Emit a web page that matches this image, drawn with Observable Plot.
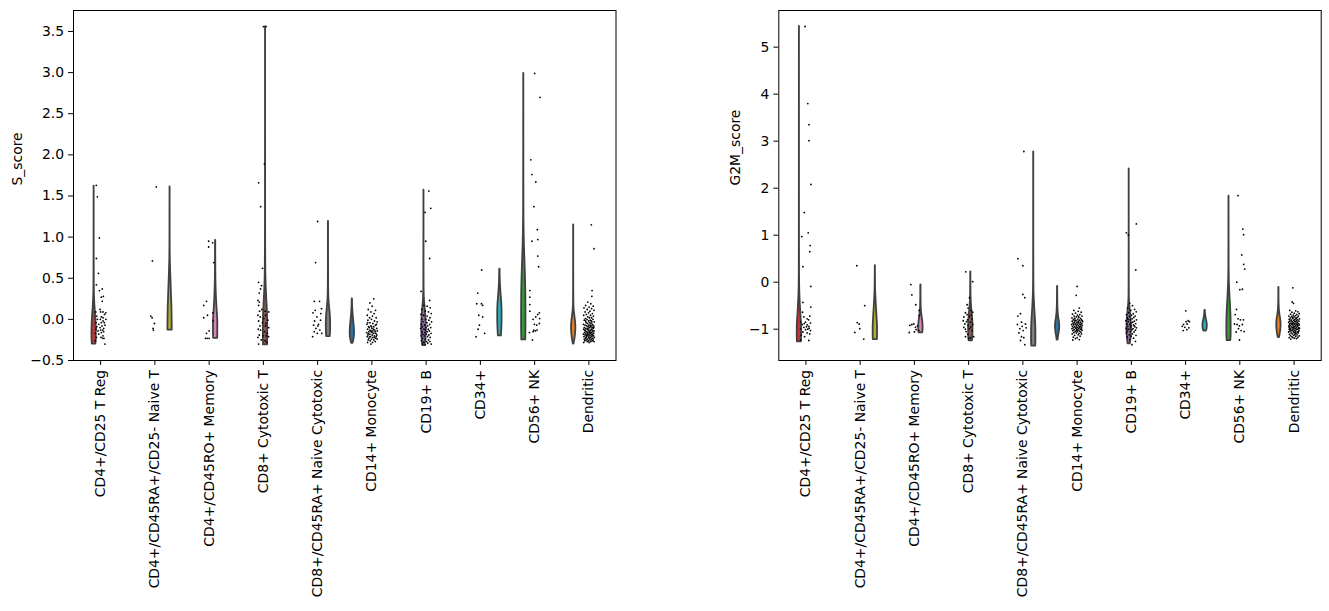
<!DOCTYPE html>
<html>
<head>
<meta charset="utf-8">
<script src="https://cdn.jsdelivr.net/npm/d3@7"></script>
<script src="https://cdn.jsdelivr.net/npm/@observablehq/plot@0.6"></script>
<style>
  body { margin: 0; background: #fff; }
  #wrap { position: relative; width: 1329px; height: 611px; overflow: hidden; background: #fff; }
  .panel { position: absolute; top: 0; }
  .panel svg { max-width: none !important; }
</style>
</head>
<body>
<div id="wrap"><div class="panel" id="left" style="left:0px"></div><div class="panel" id="right" style="left:700px"></div></div>
<script>
const categories = [
  "CD4+/CD25 T Reg",
  "CD4+/CD45RA+/CD25- Naive T",
  "CD4+/CD45RO+ Memory",
  "CD8+ Cytotoxic T",
  "CD8+/CD45RA+ Naive Cytotoxic",
  "CD14+ Monocyte",
  "CD19+ B",
  "CD34+",
  "CD56+ NK",
  "Dendritic"
];
// dodge slot (hue order) of each category
const hueSlot = [3, 8, 6, 5, 7, 0, 4, 9, 2, 1];
const palette = ["#c83436", "#b0b02e", "#da80bf", "#885a50", "#7f7f7f", "#2a75aa", "#9470b6", "#26b2c2", "#359a35", "#ea801f"];

const sTicks = [-0.5, 0, 0.5, 1, 1.5, 2, 2.5, 3, 3.5];
const gTicks = [-1, 0, 1, 2, 3, 4, 5];

// violin profiles: [value, relative half-width]
const sViolins = [
  [[-0.30,0.85],[-0.25,0.95],[-0.18,1.0],[-0.10,0.95],[0.0,0.8],[0.10,0.55],[0.20,0.3],[0.30,0.15],[0.45,0.07],[0.70,0.04],[1.00,0.025],[1.30,0.02],[1.62,0.015]],
  [[-0.13,1.0],[0.0,0.95],[0.15,0.85],[0.30,0.65],[0.45,0.45],[0.60,0.25],[0.75,0.1],[0.90,0.05],[1.20,0.03],[1.61,0.02]],
  [[-0.23,0.95],[-0.15,1.0],[-0.05,1.0],[0.05,0.85],[0.15,0.6],[0.25,0.4],[0.35,0.25],[0.50,0.12],[0.70,0.06],[0.96,0.05]],
  [[-0.31,0.9],[-0.20,1.0],[-0.05,1.0],[0.10,0.85],[0.25,0.55],[0.40,0.3],[0.60,0.12],[0.90,0.05],[1.50,0.03],[2.50,0.02],[3.56,0.015]],
  [[-0.21,0.8],[-0.15,0.95],[-0.05,1.0],[0.05,0.85],[0.15,0.5],[0.25,0.2],[0.40,0.08],[0.70,0.04],[1.19,0.03]],
  [[-0.29,0.3],[-0.25,0.7],[-0.20,0.95],[-0.15,1.0],[-0.08,0.85],[0.0,0.55],[0.08,0.3],[0.15,0.15],[0.25,0.05]],
  [[-0.32,0.5],[-0.25,0.8],[-0.15,1.0],[-0.05,1.0],[0.05,0.8],[0.15,0.5],[0.25,0.2],[0.40,0.06],[0.80,0.03],[1.57,0.02]],
  [[-0.20,0.7],[-0.10,0.9],[0.0,1.0],[0.10,1.0],[0.20,0.85],[0.30,0.55],[0.40,0.3],[0.50,0.15],[0.61,0.08]],
  [[-0.25,0.9],[-0.10,1.0],[0.10,1.0],[0.30,0.95],[0.50,0.8],[0.70,0.55],[0.90,0.3],[1.20,0.1],[1.60,0.05],[2.20,0.03],[2.99,0.02]],
  [[-0.30,0.15],[-0.25,0.5],[-0.18,0.85],[-0.10,1.0],[-0.03,0.85],[0.05,0.5],[0.12,0.2],[0.20,0.08],[0.40,0.03],[0.80,0.02],[1.15,0.015]]
];

const gViolins = [
  [[-1.27,0.9],[-1.15,1.0],[-1.0,1.0],[-0.85,0.9],[-0.7,0.7],[-0.5,0.45],[-0.3,0.25],[-0.1,0.12],[0.2,0.06],[1.0,0.03],[3.0,0.02],[5.44,0.015]],
  [[-1.22,0.95],[-1.1,1.0],[-0.95,1.0],[-0.8,0.85],[-0.6,0.6],[-0.4,0.35],[-0.2,0.15],[0.0,0.07],[0.2,0.04],[0.35,0.03]],
  [[-1.08,0.85],[-1.0,1.0],[-0.92,1.0],[-0.82,0.8],[-0.72,0.5],[-0.62,0.25],[-0.45,0.1],[-0.25,0.06],[-0.06,0.05]],
  [[-1.25,0.75],[-1.15,0.95],[-1.0,1.0],[-0.85,0.95],[-0.7,0.7],[-0.55,0.4],[-0.4,0.2],[-0.2,0.08],[0.0,0.05],[0.22,0.04]],
  [[-1.36,0.9],[-1.25,1.0],[-1.1,1.0],[-0.95,0.95],[-0.8,0.8],[-0.65,0.6],[-0.5,0.4],[-0.35,0.25],[-0.2,0.12],[0.1,0.06],[0.8,0.03],[2.77,0.02]],
  [[-1.23,0.2],[-1.15,0.45],[-1.05,0.8],[-0.95,1.0],[-0.85,0.85],[-0.75,0.5],[-0.6,0.2],[-0.4,0.08],[-0.09,0.04]],
  [[-1.31,0.5],[-1.2,0.8],[-1.05,1.0],[-0.9,1.0],[-0.75,0.8],[-0.6,0.5],[-0.45,0.2],[-0.3,0.08],[0.0,0.04],[1.0,0.02],[2.41,0.015]],
  [[-1.04,0.5],[-1.0,0.85],[-0.94,1.0],[-0.88,0.95],[-0.8,0.6],[-0.72,0.3],[-0.65,0.15],[-0.6,0.1]],
  [[-1.24,0.85],[-1.1,1.0],[-0.9,1.0],[-0.7,0.9],[-0.5,0.7],[-0.3,0.45],[-0.1,0.25],[0.1,0.12],[0.4,0.06],[1.0,0.03],[1.83,0.02]],
  [[-1.18,0.3],[-1.1,0.6],[-1.0,0.9],[-0.9,1.0],[-0.8,0.85],[-0.7,0.5],[-0.6,0.25],[-0.45,0.1],[-0.3,0.05],[-0.11,0.04]]
];

// strip points: [jitter (-1..1), value]
const sPoints = [
  [[-0.8,1.63],[-0.6,1.49],[-0.23,0.99],[-0.78,0.74],[-0.4,0.56],[-0.78,0.42],[0.3,0.37],[-0.23,0.35],[0.5,0.28],[0.13,0.27],[0.3,0.22],[-0.1,0.12],[0.0,0.09],[0.44,0.09],[0.95,0.08],[-0.9,0.09],[0.73,0.06],[-0.72,0.04],[0.13,0.03],[0.44,0.02],[-0.6,0.0],[-0.05,0.0],[0.98,0.0],[0.44,-0.02],[-0.84,-0.04],[0.13,-0.04],[0.68,-0.04],[-0.35,-0.06],[0.8,-0.07],[0.25,-0.08],[-0.72,-0.09],[-0.1,-0.1],[0.56,-0.11],[-0.84,-0.12],[0.0,-0.13],[0.38,-0.13],[-0.48,-0.14],[0.56,-0.15],[0.13,-0.16],[-0.96,-0.17],[-0.35,-0.18],[0.44,-0.2],[-0.78,-0.22],[0.07,-0.22],[0.62,-0.23],[-0.96,-0.26],[0.38,-0.23],[0.8,-0.3]],
  [[0.27,1.61],[-0.45,0.71],[-0.75,0.04],[-0.51,0.02],[-0.08,-0.05],[-0.33,-0.11],[-0.27,-0.13]],
  [[-0.09,0.95],[0.64,0.93],[-0.09,0.88],[0.85,0.69],[-0.48,0.22],[-1.0,0.17],[0.67,0.08],[-0.3,0.05],[-1.0,0.02],[0.73,-0.02],[0.0,-0.14],[-0.48,-0.17],[-0.67,-0.23],[-0.36,-0.23],[0.0,-0.23]],
  [[0.0,3.56],[0.5,3.56],[0.2,1.89],[-0.87,1.66],[-0.51,1.37],[-0.16,0.62],[-0.88,0.45],[-0.34,0.41],[-0.52,0.37],[-0.76,0.32],[-1.0,0.23],[-0.76,0.21],[-0.88,0.17],[-0.28,0.12],[-0.7,0.10],[0.33,0.10],[0.98,0.09],[-1.0,0.05],[-0.58,0.03],[0.09,0.01],[0.81,-0.01],[-0.88,-0.02],[-0.16,-0.04],[-0.64,-0.08],[0.39,-0.08],[0.98,-0.1],[-0.94,-0.12],[-0.52,-0.13],[0.21,-0.15],[0.69,-0.17],[-0.76,-0.19],[-0.1,-0.2],[0.95,-0.21],[-1.0,-0.22],[-0.4,-0.25],[0.33,-0.26],[-0.88,-0.3],[0.69,-0.28],[0.4,0.05],[0.45,-0.05],[0.5,-0.2]],
  [[0.0,1.19],[-0.38,0.69],[-0.62,0.22],[0.35,0.22],[-0.44,0.11],[-0.86,0.08],[0.72,0.13],[0.59,0.07],[-0.13,0.03],[-0.56,-0.02],[0.53,-0.01],[-0.74,-0.07],[0.05,-0.08],[-0.32,-0.11],[0.41,-0.13],[-0.62,-0.15],[-0.07,-0.17],[-0.92,-0.21],[0.78,-0.17],[0.17,-0.06]],
  [[0.36,0.25],[-0.36,0.20],[0.06,0.16],[-0.67,0.12],[0.67,0.11],[-0.18,0.09],[0.42,0.07],[-0.85,0.05],[0.12,0.04],[-0.42,0.02],[0.79,0.02],[-0.06,0.0],[-0.73,-0.01],[0.48,-0.02],[0.97,-0.03],[-0.36,-0.04],[0.18,-0.05],[-0.91,-0.06],[0.67,-0.07],[-0.18,-0.08],[-0.61,-0.09],[0.36,-0.09],[0.91,-0.11],[0.0,-0.11],[-0.79,-0.12],[-0.36,-0.13],[0.55,-0.13],[0.18,-0.14],[1.0,-0.14],[-0.55,-0.15],[-0.12,-0.15],[-0.97,-0.16],[0.73,-0.17],[0.36,-0.17],[-0.36,-0.18],[0.06,-0.19],[-0.73,-0.19],[0.91,-0.19],[0.48,-0.2],[-0.24,-0.21],[-0.85,-0.21],[0.18,-0.22],[-0.55,-0.23],[0.73,-0.23],[-0.06,-0.24],[0.36,-0.25],[-0.67,-0.25],[-0.3,-0.26],[0.61,-0.27],[0.12,-0.28],[-0.79,-0.28],[-0.18,-0.3],[0.79,-0.21],[-0.48,-0.1],[0.3,-0.12],[-0.18,-0.14],[0.61,-0.15],[-0.67,-0.17],[0.06,-0.16],[0.97,-0.24],[-0.42,-0.21],[0.48,-0.22],[-0.06,-0.09],[0.85,-0.06],[-0.79,-0.04]],
  [[0.5,1.56],[0.85,1.35],[-0.2,1.30],[-0.07,0.95],[0.65,0.74],[-0.93,0.34],[0.65,0.23],[-0.4,0.17],[0.2,0.16],[0.75,0.14],[-0.8,0.12],[-0.15,0.1],[0.45,0.09],[0.95,0.07],[-0.95,0.06],[-0.45,0.05],[0.2,0.04],[0.7,0.02],[-0.75,0.0],[-0.05,0.0],[0.5,-0.01],[1.0,-0.03],[-0.55,-0.03],[0.15,-0.04],[-0.9,-0.06],[0.65,-0.06],[-0.3,-0.07],[0.3,-0.08],[-0.7,-0.09],[0.0,-0.1],[0.85,-0.1],[-1.0,-0.11],[-0.4,-0.12],[0.4,-0.12],[-0.1,-0.13],[0.6,-0.14],[-0.75,-0.15],[0.2,-0.15],[-0.25,-0.16],[0.9,-0.17],[-0.6,-0.18],[0.05,-0.18],[0.5,-0.19],[-0.9,-0.2],[-0.35,-0.2],[0.25,-0.21],[0.75,-0.22],[-0.65,-0.23],[-0.1,-0.24],[0.45,-0.25],[-0.85,-0.26],[0.1,-0.27],[0.7,-0.27],[-0.45,-0.28],[0.3,-0.29],[-0.15,-0.31],[0.95,-0.3],[-0.7,-0.3]],
  [[0.24,0.60],[-0.48,0.32],[-0.67,0.19],[0.2,0.19],[0.42,0.17],[-0.3,0.05],[0.42,0.03],[-0.18,-0.07],[-0.42,-0.12],[0.79,-0.17],[-0.79,-0.21]],
  [[0.0,2.99],[1.0,2.70],[-0.7,1.94],[-0.5,1.76],[0.22,1.67],[-0.14,1.37],[0.5,1.09],[0.58,0.97],[-0.5,0.95],[0.58,0.77],[0.73,0.64],[-0.88,0.35],[-0.88,0.27],[-0.88,0.18],[-0.88,0.10],[0.87,0.08],[0.57,0.06],[0.2,0.03],[0.93,0.01],[-0.28,0.0],[-0.04,-0.06],[0.87,-0.05],[0.39,-0.07],[-0.95,-0.16],[-0.16,-0.13],[0.15,-0.14],[0.45,-0.13],[-0.28,-0.15],[-0.4,-0.25]],
  [[0.45,1.15],[0.95,0.86],[0.59,0.35],[0.55,0.28],[-0.2,0.21],[0.35,0.19],[-0.6,0.17],[0.8,0.16],[0.05,0.15],[-0.9,0.14],[0.5,0.13],[-0.3,0.12],[0.95,0.11],[0.2,0.10],[-0.7,0.09],[-0.05,0.08],[0.65,0.07],[-0.45,0.06],[0.3,0.05],[-0.95,0.05],[0.85,0.04],[-0.2,0.03],[0.1,0.02],[0.5,0.02],[-0.65,0.01],[-0.35,0.0],[0.75,0.0],[0.25,-0.01],[-0.85,-0.01],[-0.05,-0.02],[0.55,-0.03],[1.0,-0.03],[-0.5,-0.04],[0.15,-0.04],[-0.25,-0.05],[0.4,-0.05],[-1.0,-0.06],[0.7,-0.06],[-0.7,-0.07],[0.0,-0.07],[0.9,-0.08],[-0.4,-0.08],[0.3,-0.09],[-0.15,-0.09],[0.6,-0.1],[-0.85,-0.1],[0.1,-0.1],[-0.55,-0.11],[0.8,-0.11],[0.45,-0.12],[-0.3,-0.12],[-0.95,-0.12],[0.2,-0.13],[-0.1,-0.13],[0.65,-0.13],[-0.65,-0.14],[0.95,-0.14],[0.35,-0.14],[-0.4,-0.15],[0.05,-0.15],[0.75,-0.15],[-0.8,-0.16],[-0.2,-0.16],[0.5,-0.16],[0.25,-0.17],[-0.55,-0.17],[0.9,-0.17],[-1.0,-0.18],[0.0,-0.18],[0.6,-0.18],[-0.35,-0.19],[0.4,-0.19],[-0.7,-0.19],[0.15,-0.2],[0.85,-0.2],[-0.15,-0.2],[-0.9,-0.21],[0.55,-0.21],[-0.45,-0.21],[0.3,-0.22],[1.0,-0.22],[-0.05,-0.22],[-0.6,-0.23],[0.7,-0.23],[0.1,-0.23],[-0.25,-0.24],[0.45,-0.24],[-0.85,-0.24],[0.2,-0.25],[0.8,-0.25],[-0.5,-0.25],[-0.1,-0.26],[0.6,-0.26],[-0.75,-0.26],[0.35,-0.27],[-0.3,-0.27],[0.95,-0.27],[0.05,-0.28],[-0.95,-0.28],[-0.4,-0.2],[0.25,-0.07],[-0.6,-0.02],[0.7,-0.19],[-0.15,-0.11],[0.45,-0.02],[-0.75,-0.13],[0.15,-0.16],[0.9,-0.1],[-0.25,-0.18],[0.55,-0.08],[-0.5,-0.22]]
];

const gPoints = [
  [[-0.16,5.44],[0.35,3.80],[0.56,3.35],[0.56,3.01],[0.93,2.08],[-0.3,1.48],[0.42,1.05],[-0.76,0.97],[0.78,0.78],[0.72,0.65],[-0.56,0.33],[0.9,-0.09],[-0.56,-0.43],[0.9,-0.53],[-0.62,-0.64],[0.72,-0.72],[-0.38,-0.74],[0.23,-0.78],[0.5,-0.8],[-0.98,-0.84],[-0.07,-0.85],[0.84,-0.87],[-0.68,-0.9],[0.23,-0.91],[-0.38,-0.96],[0.54,-0.94],[-0.98,-0.99],[-0.07,-1.01],[0.84,-1.03],[-0.56,-1.06],[0.23,-1.08],[-0.86,-1.13],[-0.25,-1.16],[0.54,-1.24],[-0.98,-1.23],[0.6,-0.98],[0.1,-0.95],[-0.3,-0.88],[0.35,-1.0],[0.7,-1.1]],
  [[-0.61,0.35],[0.84,-0.5],[-0.55,-0.86],[-0.19,-0.89],[-0.07,-0.99],[-0.98,-1.07],[0.66,-1.21]],
  [[-0.65,-0.05],[-0.47,-0.27],[0.26,-0.48],[0.87,-0.6],[0.87,-0.71],[-0.1,-0.89],[-0.83,-0.92],[-0.47,-0.9],[0.2,-0.96],[0.56,-0.93],[0.81,-1.03],[-0.95,-1.07],[0.0,-1.06],[0.32,-1.01]],
  [[-0.52,0.22],[0.75,0.01],[0.15,-0.33],[-0.28,-0.48],[-0.1,-0.55],[0.45,-0.6],[-0.58,-0.65],[0.75,-0.64],[-0.28,-0.69],[-0.88,-0.74],[0.15,-0.73],[0.63,-0.78],[-1.0,-0.82],[-0.4,-0.84],[0.33,-0.85],[-0.7,-0.89],[-0.1,-0.92],[0.75,-0.9],[-0.88,-0.96],[0.15,-0.99],[0.63,-1.03],[-0.46,-1.05],[-0.16,-1.11],[0.93,-1.16],[0.33,-1.18],[-0.58,-1.16],[0.5,-0.7],[-0.2,-0.8],[0.4,-0.95],[-0.6,-1.0],[0.0,-1.2]],
  [[0.18,2.78],[-0.92,0.50],[0.0,0.35],[0.0,-0.26],[0.35,-0.33],[-0.44,-0.67],[-0.92,-0.72],[-0.25,-0.85],[-1.0,-0.9],[0.47,-0.89],[-0.13,-0.94],[-0.56,-0.99],[0.6,-0.97],[0.05,-1.03],[-0.74,-1.08],[-0.25,-1.16],[0.17,-1.18],[-0.44,-1.24],[0.35,-1.33]],
  [[0.0,-0.09],[-0.17,-0.28],[0.4,-0.55],[-0.6,-0.6],[0.2,-0.62],[0.75,-0.64],[-0.3,-0.66],[-0.85,-0.68],[0.5,-0.69],[0.05,-0.7],[-0.55,-0.72],[0.9,-0.72],[-0.15,-0.74],[0.3,-0.75],[-0.95,-0.76],[0.65,-0.77],[-0.4,-0.78],[0.1,-0.79],[-0.7,-0.8],[0.8,-0.8],[0.45,-0.81],[-0.2,-0.82],[-0.9,-0.83],[0.2,-0.83],[1.0,-0.84],[-0.5,-0.85],[0.6,-0.85],[-0.05,-0.86],[-0.75,-0.87],[0.35,-0.87],[0.85,-0.88],[-0.3,-0.89],[0.0,-0.9],[-1.0,-0.9],[0.55,-0.9],[-0.6,-0.91],[0.25,-0.92],[0.95,-0.92],[-0.15,-0.93],[-0.85,-0.94],[0.7,-0.94],[0.4,-0.95],[-0.45,-0.95],[0.1,-0.96],[-0.7,-0.97],[0.85,-0.97],[-0.25,-0.98],[0.3,-0.99],[-0.95,-0.99],[0.6,-1.0],[-0.05,-1.0],[-0.55,-1.01],[0.15,-1.02],[0.9,-1.02],[-0.8,-1.03],[0.45,-1.04],[-0.35,-1.04],[0.05,-1.05],[0.7,-1.06],[-0.6,-1.07],[-0.15,-1.08],[0.35,-1.09],[-0.9,-1.1],[0.8,-1.1],[0.2,-1.12],[-0.45,-1.13],[0.55,-1.15],[-0.7,-1.17],[0.0,-1.18],[-0.3,-1.2],[0.4,-1.22],[-0.8,-1.23],[0.65,-0.9],[-0.4,-0.82],[0.15,-0.86],[-0.65,-0.88],[0.5,-0.96],[-0.2,-0.97],[0.75,-1.0],[-0.5,-0.77],[0.25,-0.73],[-0.1,-1.03],[0.95,-0.82]],
  [[0.81,0.26],[-0.92,1.05],[-0.55,1.0],[0.92,1.24],[-0.3,-0.45],[0.2,-0.5],[-0.7,-0.55],[0.6,-0.58],[-0.1,-0.6],[0.9,-0.63],[-0.5,-0.65],[0.35,-0.67],[-0.9,-0.69],[0.05,-0.7],[0.7,-0.72],[-0.35,-0.73],[0.45,-0.75],[-0.75,-0.76],[0.15,-0.78],[-0.2,-0.8],[0.95,-0.8],[-1.0,-0.82],[0.55,-0.83],[-0.55,-0.84],[0.25,-0.85],[-0.05,-0.87],[0.8,-0.88],[-0.8,-0.89],[-0.3,-0.9],[0.4,-0.91],[0.0,-0.93],[-0.65,-0.94],[0.65,-0.95],[-0.15,-0.96],[0.95,-0.97],[-0.95,-0.98],[0.3,-0.99],[-0.45,-1.0],[0.1,-1.01],[0.75,-1.02],[-0.7,-1.04],[-0.2,-1.05],[0.5,-1.06],[-0.9,-1.08],[0.2,-1.1],[-0.4,-1.12],[0.85,-1.13],[-0.05,-1.15],[-0.75,-1.17],[0.4,-1.19],[-0.3,-1.22],[0.75,-1.26],[0.1,-1.33],[-0.6,-0.79],[0.55,-0.93],[-0.85,-1.0]],
  [[0.04,-0.61],[0.47,-0.82],[0.1,-0.84],[0.71,-0.84],[-0.38,-0.9],[0.28,-0.89],[-0.62,-0.94],[-0.14,-0.96],[0.59,-0.97],[-0.44,-1.03],[0.22,-1.01]],
  [[-0.33,1.84],[0.55,1.13],[0.69,1.01],[0.35,0.58],[0.72,0.38],[0.9,0.28],[-0.56,0.0],[0.0,-0.16],[0.47,-0.15],[-0.62,-0.58],[-0.86,-0.69],[-0.32,-0.78],[0.11,-0.80],[0.65,-0.80],[-0.98,-0.89],[-0.5,-0.9],[-0.07,-0.93],[0.47,-0.9],[-0.25,-0.99],[0.23,-1.03],[0.78,-1.05],[-0.68,-1.06],[-0.07,-1.23]],
  [[-0.23,-0.12],[-0.35,-0.42],[-0.1,-0.45],[-0.8,-0.6],[0.3,-0.61],[0.7,-0.63],[-0.4,-0.64],[0.05,-0.66],[0.95,-0.67],[-0.65,-0.68],[0.5,-0.69],[-0.15,-0.7],[0.25,-0.71],[-0.95,-0.72],[0.8,-0.72],[-0.45,-0.73],[0.0,-0.74],[0.6,-0.75],[-0.7,-0.76],[0.35,-0.76],[-0.25,-0.77],[1.0,-0.78],[-0.9,-0.79],[0.15,-0.79],[0.7,-0.8],[-0.55,-0.8],[-0.05,-0.81],[0.45,-0.82],[-0.8,-0.83],[0.9,-0.83],[-0.35,-0.84],[0.2,-0.84],[-1.0,-0.85],[0.6,-0.85],[-0.15,-0.86],[0.35,-0.87],[-0.6,-0.87],[0.85,-0.88],[0.0,-0.88],[-0.85,-0.89],[0.5,-0.89],[-0.4,-0.9],[0.15,-0.9],[0.95,-0.91],[-0.2,-0.91],[-0.7,-0.92],[0.7,-0.92],[0.3,-0.93],[-0.95,-0.93],[-0.05,-0.94],[0.55,-0.94],[-0.5,-0.95],[0.1,-0.95],[0.8,-0.96],[-0.3,-0.96],[-0.8,-0.97],[0.4,-0.97],[1.0,-0.98],[-0.1,-0.98],[0.2,-0.99],[-0.6,-0.99],[0.65,-1.0],[-0.9,-1.0],[-0.25,-1.01],[0.45,-1.01],[0.05,-1.02],[-0.45,-1.03],[0.9,-1.03],[-0.75,-1.04],[0.25,-1.04],[-0.15,-1.05],[0.6,-1.06],[-1.0,-1.06],[0.0,-1.07],[-0.55,-1.08],[0.75,-1.08],[0.35,-1.09],[-0.3,-1.1],[-0.85,-1.11],[0.15,-1.11],[0.55,-1.12],[-0.05,-1.13],[0.95,-1.14],[-0.65,-1.14],[0.3,-1.15],[-0.4,-1.16],[0.7,-1.17],[-0.2,-1.18],[-0.9,-1.18],[0.1,-1.19],[0.5,-1.2],[-0.6,-1.21],[0.85,-0.99],[-0.35,-0.88],[0.4,-0.78],[-0.7,-1.02],[0.1,-0.83],[0.6,-0.9],[-0.15,-0.97],[-0.5,-0.82],[0.25,-1.07],[0.8,-1.05],[-0.25,-0.75],[-0.95,-0.95]]
];

const DODGE = 0.08;      // width of one hue slot
const HALF = 0.04;       // max violin half-width
const JITTER = 0.1;      // strip jitter half-width

function violinRows(profiles) {
  return profiles.flatMap((prof, i) => prof.map(([v, w]) => ({cat: i, v, w})));
}
function pointRows(points) {
  return points.flatMap((pts, i) => pts.map(([j, v]) => ({cat: i, j, v})));
}
const center = (c) => c + (hueSlot[c] - 4.5) * DODGE;

function panel({violins, points, yDomain, yTicks, yFormat, ylabel, width, marginLeft, marginRight, labelDx}) {
  return Plot.plot({
    width, height: 611,
    marginTop: 10, marginBottom: 251, marginLeft, marginRight,
    style: {fontFamily: "'DejaVu Sans', sans-serif", fontSize: "13.9px", color: "black", background: "white", overflow: "visible"},
    x: {domain: [-0.5, 9.5]},
    y: {domain: yDomain},
    color: {type: "identity"},
    marks: [
      Plot.areaX(violinRows(violins), {
        y: "v",
        x1: d => center(d.cat) - d.w * HALF,
        x2: d => center(d.cat) + d.w * HALF,
        z: "cat",
        fill: d => palette[d.cat],
        stroke: "#404040",
        strokeWidth: 1.8,
        strokeLinejoin: "round",
        curve: "monotone-y"
      }),
      Plot.dot(pointRows(points), {
        x: d => d.cat + d.j * JITTER,
        y: "v",
        r: 0.9,
        fill: "black",
        stroke: null
      }),
      Plot.frame({stroke: "black", strokeWidth: 1}),
      Plot.axisY({ticks: yTicks, tickFormat: yFormat, tickSize: 4.9, tickPadding: 4.5, label: null, stroke: "black"}),
      Plot.axisX({ticks: d3.range(categories.length), tickFormat: i => categories[i], tickRotate: -90, tickSize: 4.9, tickPadding: 4.5, label: null, stroke: "black"}),
      Plot.text([ylabel], {frameAnchor: "left", dx: labelDx, rotate: -90, text: d => d, fontSize: 13.9, fill: "black"})
    ]
  });
}

document.getElementById("left").appendChild(panel({
  violins: sViolins, points: sPoints,
  yDomain: [-0.5, 3.755], yTicks: sTicks, yFormat: d3.format(".1f"),
  ylabel: "S_score", width: 620, marginLeft: 73, marginRight: 4.5, labelDx: -55.5
}));
document.getElementById("right").appendChild(panel({
  violins: gViolins, points: gPoints,
  yDomain: [-1.666, 5.78], yTicks: gTicks, yFormat: d3.format("d"),
  ylabel: "G2M_score", width: 629, marginLeft: 78.3, marginRight: 8.3, labelDx: -43.3
}));
</script>
</body>
</html>
